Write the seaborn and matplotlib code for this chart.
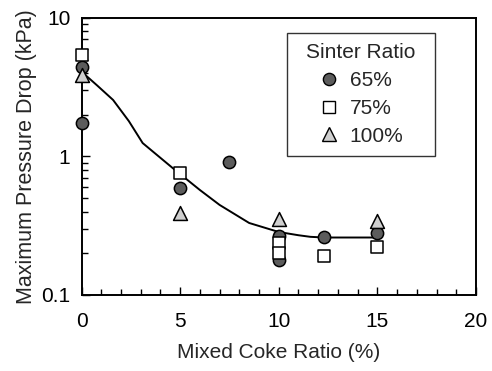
import matplotlib
matplotlib.use("Agg")
import matplotlib.pyplot as plt
import seaborn as sns
import pandas as pd
from matplotlib.ticker import MultipleLocator, LogLocator, FixedLocator, NullFormatter
from matplotlib.lines import Line2D

# ---- data ----
x65 = [0, 0, 5, 7.5, 10, 10, 12.3, 15]
y65 = [4.4, 1.75, 0.59, 0.92, 0.265, 0.178, 0.262, 0.28]

x75 = [0, 5, 10, 10, 12.3, 15]
y75 = [5.4, 0.76, 0.237, 0.2, 0.19, 0.222]

x100 = [0, 5, 10, 15]
y100 = [3.9, 0.39, 0.355, 0.343]

curve_x = [0.0, 0.8, 1.6, 2.4, 3.1, 4.6, 6.0, 7.0, 8.5, 10.0, 11.0, 11.6, 12.3, 15.0]
curve_y = [4.1, 3.25, 2.56, 1.8, 1.25, 0.83, 0.573, 0.447, 0.331, 0.285, 0.27, 0.263, 0.26, 0.26]

xticks = [0, 5, 10, 15, 20]
yticks = [0.1, 1, 10]
ytick_labels = ["0.1", "1", "10"]
series_labels = ["65%", "75%", "100%"]

sns.set_theme(style="ticks")
plt.rcParams["font.family"] = ["Liberation Sans", "DejaVu Sans"]

fig = plt.figure(figsize=(4.92, 3.71), dpi=100)
ax = fig.add_axes([0.1657, 0.2049, 0.8018, 0.7466])

curve = pd.DataFrame({"x": curve_x, "y": curve_y})
sns.lineplot(data=curve, x="x", y="y", ax=ax, color="black", linewidth=1.4,
             sort=True, estimator=None, zorder=2)

styles = [
    dict(marker="o", facecolor="#5c5c5c", s=78),
    dict(marker="s", facecolor="white", s=75),
    dict(marker="^", facecolor="#cfcfcf", s=100),
]
for (xs, ys), st in zip([(x65, y65), (x75, y75), (x100, y100)], styles):
    df = pd.DataFrame({"x": xs, "y": ys})
    sns.scatterplot(data=df, x="x", y="y", ax=ax, marker=st["marker"], s=st["s"],
                    color=st["facecolor"], edgecolor="black", linewidth=1.1,
                    zorder=3, clip_on=False)

ax.set_yscale("log")
ax.set_xlim(0, 20)
ax.set_ylim(0.1, 10)

ax.xaxis.set_major_locator(FixedLocator(xticks))
ax.xaxis.set_minor_locator(MultipleLocator(1))
ax.yaxis.set_major_locator(FixedLocator(yticks))
ax.set_yticklabels(ytick_labels)
ax.yaxis.set_minor_locator(LogLocator(base=10, subs=range(2, 10)))
ax.yaxis.set_minor_formatter(NullFormatter())

ax.tick_params(which="both", direction="in", top=False, right=False,
               labelsize=15, colors="black", width=1.0)
ax.tick_params(which="major", length=6)
ax.tick_params(which="minor", length=4)
ax.tick_params(axis="x", which="major", pad=12)
ax.tick_params(axis="y", which="major", pad=8)

for sp in ax.spines.values():
    sp.set_color("black")
    sp.set_linewidth(1.4)

ax.set_xlabel("Mixed Coke Ratio (%)", fontsize=15, labelpad=9)
ax.set_ylabel("Maximum Pressure Drop (kPa)", fontsize=15.5, labelpad=3)

handles = [
    Line2D([], [], linestyle="none", marker="o", markerfacecolor="#5c5c5c",
           markeredgecolor="black", markersize=8.8),
    Line2D([], [], linestyle="none", marker="s", markerfacecolor="white",
           markeredgecolor="black", markersize=8.6),
    Line2D([], [], linestyle="none", marker="^", markerfacecolor="#cfcfcf",
           markeredgecolor="black", markersize=10),
]
leg = ax.legend(handles, series_labels, title="Sinter Ratio", fontsize=15,
                title_fontsize=15, loc="upper left", mode="expand",
                bbox_to_anchor=(0.521, 0.0, 0.375, 0.946), frameon=True, fancybox=False,
                edgecolor="black", borderpad=0.5, handletextpad=-0.5,
                labelspacing=0.42, handlelength=3.0, borderaxespad=0)
leg.get_frame().set_linewidth(1.0)

fig.savefig("out.png", dpi=100)
